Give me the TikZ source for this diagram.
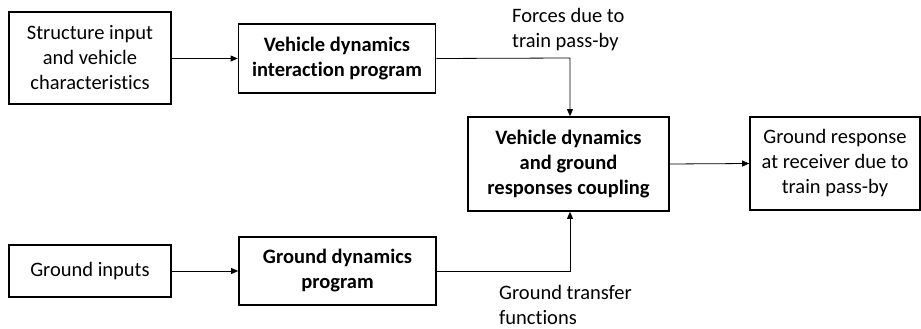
\documentclass[tikz,border=0pt]{standalone}
\usepackage{fontspec}
\setmainfont{Carlito}[Ligatures=NoCommon]
\usetikzlibrary{arrows.meta}
\begin{document}
\begin{tikzpicture}[x=1pt,y=-1pt,
  box/.style={draw, line width=1.7pt, align=center, inner sep=0pt,
    font=\fontsize{20.5}{25}\selectfont},
  boldbox/.style={box, font=\fontsize{20.5}{25}\selectfont\bfseries},
  lbl/.style={align=left, inner sep=0pt, font=\fontsize{20.5}{25}\selectfont},
  conn/.style={line width=0.8pt, -{Triangle[length=7pt,width=6pt]}}]
\useasboundingbox (0,0) rectangle (921,329);
\node[box, minimum width=162pt, minimum height=92pt] (A) at (90,58) {Structure input\\and vehicle\\characteristics};
\node[boldbox, minimum width=197pt, minimum height=69pt] (B) at (337,58.5) {Vehicle dynamics\\interaction program};
\node[boldbox, minimum width=201pt, minimum height=94pt] (C) at (568.5,164) {Vehicle dynamics\\and ground\\responses coupling};
\node[box, minimum width=170pt, minimum height=93pt] (D) at (835,163.5) {Ground response\\at receiver due to\\train pass-by};
\node[box, minimum width=162pt, minimum height=52pt] (E) at (90,271) {Ground inputs};
\node[boldbox, minimum width=197pt, minimum height=68pt] (F) at (337.5,271) {Ground dynamics\\program};
\node[lbl, anchor=west] (L1) at (512,30) {Forces due to\\train pass-by};
\node[lbl, anchor=west] (L2) at (499,305) {Ground transfer\\functions};
\coordinate (T) at (570,58);
\coordinate (U) at (570,271);
\draw[conn] (A.east |- B.west) -- (B.west);
\draw[conn] (E.east) -- (F.west);
\draw[conn] (B.east) -- (T) -- (T |- C.north);
\draw[conn] (F.east) -- (U) -- (U |- C.south);
\draw[conn] (C.east) -- (D.west);
\end{tikzpicture}
\end{document}
